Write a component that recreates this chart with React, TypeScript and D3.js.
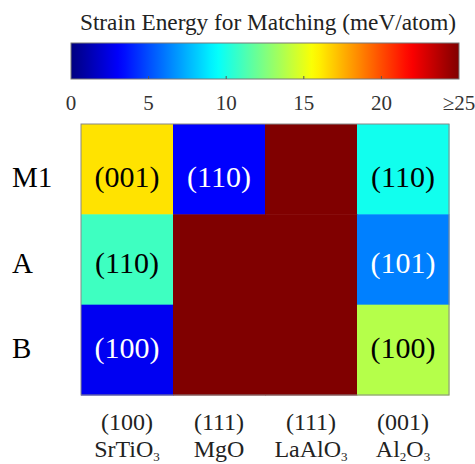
import React, { useEffect, useRef } from 'react';
import * as d3 from 'd3';

const substrates = ['SrTiO3', 'MgO', 'LaAlO3', 'Al2O3'];
const substrateFacets = ['(100)', '(111)', '(111)', '(001)'];
const phases = ['M1', 'A', 'B'];
const matchFacetsM1 = ['(001)', '(110)', '', '(110)'];
const matchFacetsA = ['(110)', '', '', '(101)'];
const matchFacetsB = ['(100)', '', '', '(100)'];
const strainM1 = [16.3, 3.1, 25, 9.8];
const strainA = [10.9, 25, 25, 6.25];
const strainB = [2.8, 25, 25, 13.8];
const colorTicks = [0, 5, 10, 15, 20, 25];
const colorTickLabels = ['0', '5', '10', '15', '20', '≥25'];

const clamp01 = (v: number) => Math.max(0, Math.min(1, v));
const jet = (t: number) =>
  d3.rgb(
    255 * clamp01(1.5 - Math.abs(4 * t - 3)),
    255 * clamp01(1.5 - Math.abs(4 * t - 2)),
    255 * clamp01(1.5 - Math.abs(4 * t - 1))
  ).formatHex();

const SERIF = "'Liberation Serif', 'Times New Roman', Times, serif";

const App: React.FC = () => {
  const ref = useRef<SVGSVGElement>(null);

  useEffect(() => {
    if (!ref.current) return;
    const width = 475;
    const height = 464;

    const svg = d3.select(ref.current);
    svg.selectAll('*').remove();
    svg.append('rect').attr('width', width).attr('height', height).attr('fill', '#fff');

    const color = d3.scaleSequential(jet).domain([0, 25]).clamp(true);

    // colorbar
    const cb = { left: 71, right: 459, top: 43, bottom: 79 };
    const cx = d3.scaleLinear().domain([0, 25]).range([cb.left, cb.right]);

    const defs = svg.append('defs');
    const grad = defs.append('linearGradient').attr('id', 'jetgrad')
      .attr('x1', '0%').attr('x2', '100%').attr('y1', '0%').attr('y2', '0%');
    d3.range(0, 1.0001, 0.02).forEach(t => {
      grad.append('stop').attr('offset', `${t * 100}%`).attr('stop-color', jet(t));
    });

    svg.append('text')
      .attr('x', (cb.left + cb.right) / 2 + 3)
      .attr('y', 30)
      .attr('text-anchor', 'middle')
      .style('font-family', SERIF)
      .style('font-size', '23.3px')
      .attr('fill', '#222')
      .text('Strain Energy for Matching (meV/atom)');

    svg.append('rect')
      .attr('x', cb.left).attr('y', cb.top)
      .attr('width', cb.right - cb.left).attr('height', cb.bottom - cb.top)
      .attr('fill', 'url(#jetgrad)')
      .attr('stroke', '#777').attr('stroke-width', 1);

    svg.selectAll('.cbtick')
      .data(colorTicks.slice(1, -1))
      .enter().append('line')
      .attr('x1', d => cx(d)).attr('x2', d => cx(d))
      .attr('y1', cb.bottom - 3).attr('y2', cb.bottom)
      .attr('stroke', '#555').attr('stroke-width', 1);

    svg.selectAll('.cblabel')
      .data(colorTicks)
      .enter().append('text')
      .attr('x', d => cx(d))
      .attr('y', 110)
      .attr('text-anchor', 'middle')
      .style('font-family', SERIF)
      .style('font-size', '21px')
      .attr('fill', '#333')
      .text((d, i) => colorTickLabels[i]);

    // heatmap
    const hm = { left: 81, right: 449, top: 124, bottom: 395 };
    const x = d3.scaleBand().domain(substrates).range([hm.left, hm.right]);
    const y = d3.scaleBand().domain(phases).range([hm.top, hm.bottom]);
    const labelY = d3.scalePoint().domain(phases).range([hm.top + 63, hm.bottom - 37]);

    const values = [strainM1, strainA, strainB];
    const facets = [matchFacetsM1, matchFacetsA, matchFacetsB];
    const cells = phases.flatMap((p, r) =>
      substrates.map((s, c) => ({ p, s, v: values[r][c], f: facets[r][c] }))
    );

    svg.append('g').selectAll('rect')
      .data(cells)
      .enter().append('rect')
      .attr('x', d => x(d.s)!)
      .attr('y', d => y(d.p)!)
      .attr('width', x.bandwidth() + 0.5)
      .attr('height', y.bandwidth() + 0.5)
      .attr('fill', d => color(d.v));

    svg.append('rect')
      .attr('x', hm.left).attr('y', hm.top)
      .attr('width', hm.right - hm.left).attr('height', hm.bottom - hm.top)
      .attr('fill', 'none').attr('stroke', '#888').attr('stroke-width', 1);

    svg.append('g').selectAll('text')
      .data(cells.filter(d => d.f))
      .enter().append('text')
      .attr('x', d => x(d.s)! + x.bandwidth() / 2)
      .attr('y', d => labelY(d.p)!)
      .attr('text-anchor', 'middle')
      .style('font-family', SERIF)
      .style('font-size', '30px')
      .attr('fill', d => (d.v < 7 ? '#fff' : '#000'))
      .text(d => d.f);

    // row labels
    svg.append('g').selectAll('text')
      .data(phases)
      .enter().append('text')
      .attr('x', hm.left - 69)
      .attr('y', d => labelY(d)!)
      .style('font-family', SERIF)
      .style('font-size', '29px')
      .attr('fill', '#000')
      .text(d => d);

    // column labels
    const colG = svg.append('g');
    substrates.forEach((s, i) => {
      const xc = x(s)! + x.bandwidth() / 2;
      colG.append('text')
        .attr('x', xc).attr('y', 430)
        .attr('text-anchor', 'middle')
        .style('font-family', SERIF)
        .style('font-size', '24px')
        .attr('fill', '#222')
        .text(substrateFacets[i]);
      const t = colG.append('text')
        .attr('x', xc).attr('y', 457)
        .attr('text-anchor', 'middle')
        .style('font-family', SERIF)
        .style('font-size', '24px')
        .attr('fill', '#222');
      let shifted = false;
      s.split(/(\d)/).filter(Boolean).forEach(part => {
        if (/\d/.test(part)) {
          t.append('tspan').style('font-size', '13px').attr('dy', 4).text(part);
          shifted = true;
        } else {
          t.append('tspan').attr('dy', shifted ? -4 : 0).text(part);
          shifted = false;
        }
      });
    });
  }, []);

  return (
    <svg
      ref={ref}
      width={475}
      height={464}
      style={{ position: 'absolute', left: 0, top: 0, display: 'block' }}
    />
  );
};

export default App;
